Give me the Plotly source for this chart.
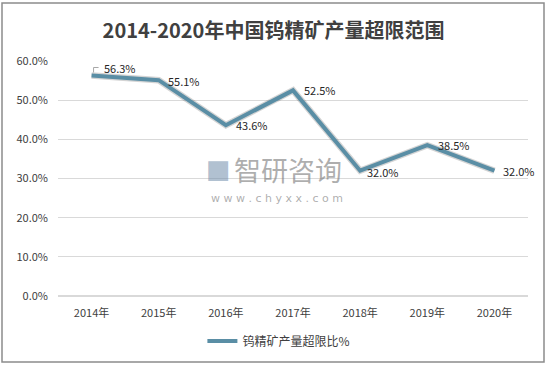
import plotly.graph_objects as go

years = ["2014年", "2015年", "2016年", "2017年", "2018年", "2019年", "2020年"]
values = [56.3, 55.1, 43.6, 52.5, 32.0, 38.5, 32.0]
labels = ["56.3%", "55.1%", "43.6%", "52.5%", "32.0%", "38.5%", "32.0%"]
yticks = [0, 10, 20, 30, 40, 50, 60]
yticktext = ["0.0%", "10.0%", "20.0%", "30.0%", "40.0%", "50.0%", "60.0%"]
series_name = "钨精矿产量超限比%"
title = "2014-2020年中国钨精矿产量超限范围"

FONT = "Noto Sans CJK SC"
LINE = "#5A8EA5"

fig = go.Figure()
# subtle shadow under the line
fig.add_trace(go.Scatter(x=years, y=values, mode="lines",
                         line=dict(color="rgba(60,60,60,0.22)", width=6.5),
                         showlegend=False, hoverinfo="skip"))
fig.add_trace(go.Scatter(x=years, y=values, mode="lines", name=series_name,
                         line=dict(color=LINE, width=4)))

# label offsets (pixels) per point
offsets = [(28, 7), (25, -1), (26, 0), (27, 0), (23, -1), (27, 0), (25, 0)]
for yr, v, lab, (dx, dy) in zip(years, values, labels, offsets):
    fig.add_annotation(x=yr, y=v, text=lab, showarrow=False,
                       xshift=dx, yshift=dy,
                       font=dict(family=FONT, size=11, color="#262626"))

# leader line for the first label (pixel-sized path anchored at the data point)
fig.add_shape(type="path", xref="x", yref="y", xsizemode="pixel", ysizemode="pixel",
              xanchor=years[0], yanchor=values[0],
              path="M 2,3 L 2,8 L 7,8", line=dict(color="#A6A6A6", width=1))

# watermark
fig.add_annotation(xref="paper", yref="paper", x=0.31, y=0.54, text="■",
                   showarrow=False, font=dict(family="DejaVu Sans", size=26, color="rgba(110,140,170,0.55)"))
fig.add_annotation(xref="paper", yref="paper", x=0.49, y=0.54, text="智研咨询",
                   showarrow=False, font=dict(family=FONT, size=27, color="rgba(120,120,120,0.6)"))
fig.add_annotation(xref="paper", yref="paper", x=0.465, y=0.415, text="w w w . c h y x x . c o m",
                   showarrow=False, font=dict(family="DejaVu Sans", size=11, color="rgba(120,120,120,0.6)"))

# outer border
W, H = 547, 365
l, r, t, b = 58, 19, 61, 69
pw, ph = W - l - r, H - t - b
fig.add_shape(type="rect", xref="paper", yref="paper",
              x0=(2 - l) / pw, x1=(W - 3 - l) / pw,
              y0=-(H - 3 - t - ph) / ph, y1=1 + (t - 3) / ph,
              line=dict(color="#8C8C8C", width=1.5), fillcolor="rgba(0,0,0,0)", layer="below")

fig.update_layout(
    width=W, height=H,
    margin=dict(l=l, r=r, t=t, b=b, autoexpand=False),
    paper_bgcolor="white", plot_bgcolor="white",
    title=dict(text="<b>" + title + "</b>", x=0.5, xanchor="center", xref="container",
               y=1 - 31 / H, yanchor="middle", yref="container",
               font=dict(family=FONT, size=20, color="#404040")),
    xaxis=dict(type="category", range=[-0.5, 6.5], showgrid=False, showline=False, ticks="",
               tickfont=dict(family=FONT, size=11, color="#404040"), ticklabelstandoff=9,
               automargin=False),
    yaxis=dict(range=[0, 60], tickvals=yticks, ticktext=yticktext, showgrid=True,
               gridcolor="#D9D9D9", gridwidth=1, zeroline=True, zerolinecolor="#D9D9D9",
               tickfont=dict(family=FONT, size=11, color="#404040"), showline=False,
               ticklabelstandoff=9, automargin=False),
    legend=dict(orientation="h", x=0.47, xanchor="center", y=-0.13, yanchor="top",
                font=dict(family=FONT, size=12, color="#404040")),
    showlegend=True,
)

fig.write_html("out.html", config={"displayModeBar": False},
               post_script="document.body.style.margin='0';")
